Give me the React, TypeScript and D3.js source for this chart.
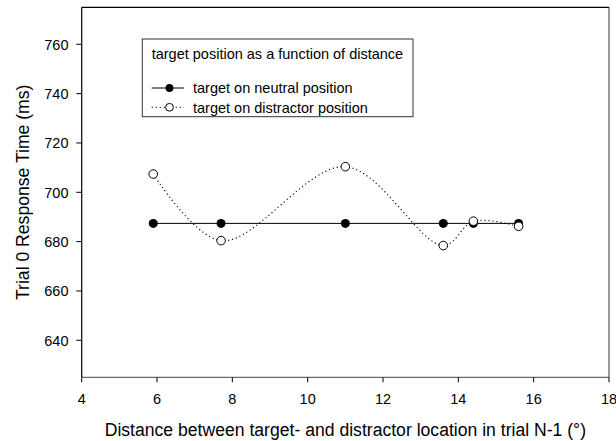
import React from "react"
import * as d3 from "d3"

// ---------- Data ----------
const distances = [5.9, 7.7, 11.0, 13.6, 14.4, 15.6]
const neutralRT = [687.4, 687.4, 687.4, 687.4, 687.4, 687.4]
const distractorRT = [707.4, 680.4, 710.4, 678.4, 688.3, 686.2]

const xTicks = [4, 6, 8, 10, 12, 14, 16, 18]
const yTicks = [640, 660, 680, 700, 720, 740, 760]

const legendTitle = "target position as a function of distance"
const seriesNames = ["target on neutral position", "target on distractor position"]
const xTitle = "Distance between target- and distractor location in trial N-1 (°)"
const yTitle = "Trial 0 Response Time (ms)"

// ---------- Layout ----------
const W = 616
const H = 441
const plot = { left: 81.7, right: 609, top: 7.3, bottom: 377.3 }
const FONT = "'Liberation Sans', Arial, sans-serif"

const App: React.FC = () => {
    const x = d3.scaleLinear().domain([4, 18]).range([plot.left, plot.right])
    const y = d3.scaleLinear().domain([625, 775]).range([plot.bottom, plot.top])

    const neutral = distances.map((d, i) => [d, neutralRT[i]] as [number, number])
    const distractor = distances.map((d, i) => [d, distractorRT[i]] as [number, number])

    const straight = d3.line<[number, number]>().x(d => x(d[0])).y(d => y(d[1]))
    const spline = d3.line<[number, number]>().x(d => x(d[0])).y(d => y(d[1])).curve(d3.curveCatmullRom.alpha(0.5))

    // legend box
    const lg = { left: 142.3, top: 39, right: 413, bottom: 116.7 }
    const rowY = [88, 107.3]

    return (
        <svg width={W} height={H} style={{ position: "absolute", left: 0, top: 0, background: "#fff" }}
            fontFamily={FONT}>
            <rect x={0} y={0} width={W} height={H} fill="#fff" />

            {/* frame */}
            <line x1={plot.left} x2={plot.right} y1={plot.top} y2={plot.top} stroke="#000" strokeWidth={1.2} />
            <line x1={plot.right} x2={plot.right} y1={plot.top} y2={plot.bottom} stroke="#333" strokeWidth={1} />
            <line x1={plot.left} x2={plot.right} y1={plot.bottom} y2={plot.bottom} stroke="#444" strokeWidth={1} />
            <line x1={plot.left} x2={plot.left} y1={plot.top} y2={plot.bottom} stroke="#000" strokeWidth={1.2} />

            {/* y axis */}
            {yTicks.map(t => (
                <g key={"y" + t}>
                    <line x1={plot.left - 5.4} x2={plot.left} y1={y(t)} y2={y(t)} stroke="#000" strokeWidth={1} />
                    <text x={68.5} y={y(t)} dy="0.36em" textAnchor="end" fontSize={14.5} fill="#000">{t}</text>
                </g>
            ))}

            {/* x axis */}
            {xTicks.map(t => (
                <g key={"x" + t}>
                    <line x1={x(t)} x2={x(t)} y1={plot.bottom} y2={plot.bottom + 5} stroke="#000" strokeWidth={1} />
                    <text x={x(t)} y={398.6} dy="0.36em" textAnchor="middle" fontSize={14.5} fill="#000">{t}</text>
                </g>
            ))}

            {/* axis titles */}
            <text x={(plot.left + plot.right) / 2} y={436.3} textAnchor="middle" fontSize={17.6} fill="#000">{xTitle}</text>
            <text transform={`translate(28.6,${(plot.top + plot.bottom) / 2}) rotate(-90)`} textAnchor="middle"
                fontSize={17.6} fill="#000">{yTitle}</text>

            {/* series */}
            <path d={straight(neutral) ?? ""} fill="none" stroke="#000" strokeWidth={1} />
            {neutral.map((d, i) => (
                <circle key={"n" + i} cx={x(d[0])} cy={y(d[1])} r={4.5} fill="#000" />
            ))}
            <path d={spline(distractor) ?? ""} fill="none" stroke="#000" strokeWidth={1.1} strokeDasharray="1.2 2.8" />
            {distractor.map((d, i) => (
                <circle key={"d" + i} cx={x(d[0])} cy={y(d[1])} r={4.3} fill="#fff" stroke="#000" strokeWidth={1} />
            ))}

            {/* legend */}
            <rect x={lg.left} y={lg.top} width={lg.right - lg.left} height={lg.bottom - lg.top}
                fill="#fff" stroke="#333" strokeWidth={1} />
            <text x={151.7} y={54} dy="0.36em" fontSize={14.5} fill="#000">{legendTitle}</text>
            <line x1={151.7} x2={184} y1={rowY[0]} y2={rowY[0]} stroke="#000" strokeWidth={1} />
            <circle cx={169.5} cy={rowY[0]} r={3.9} fill="#000" />
            <text x={193} y={rowY[0]} dy="0.36em" fontSize={14.5} fill="#000">{seriesNames[0]}</text>
            <line x1={151.7} x2={184} y1={rowY[1]} y2={rowY[1]} stroke="#000" strokeWidth={1} strokeDasharray="1.2 2.8" />
            <circle cx={169.5} cy={rowY[1]} r={3.9} fill="#fff" stroke="#000" strokeWidth={1} />
            <text x={193} y={rowY[1]} dy="0.36em" fontSize={14.5} fill="#000">{seriesNames[1]}</text>
        </svg>
    )
}

export default App
